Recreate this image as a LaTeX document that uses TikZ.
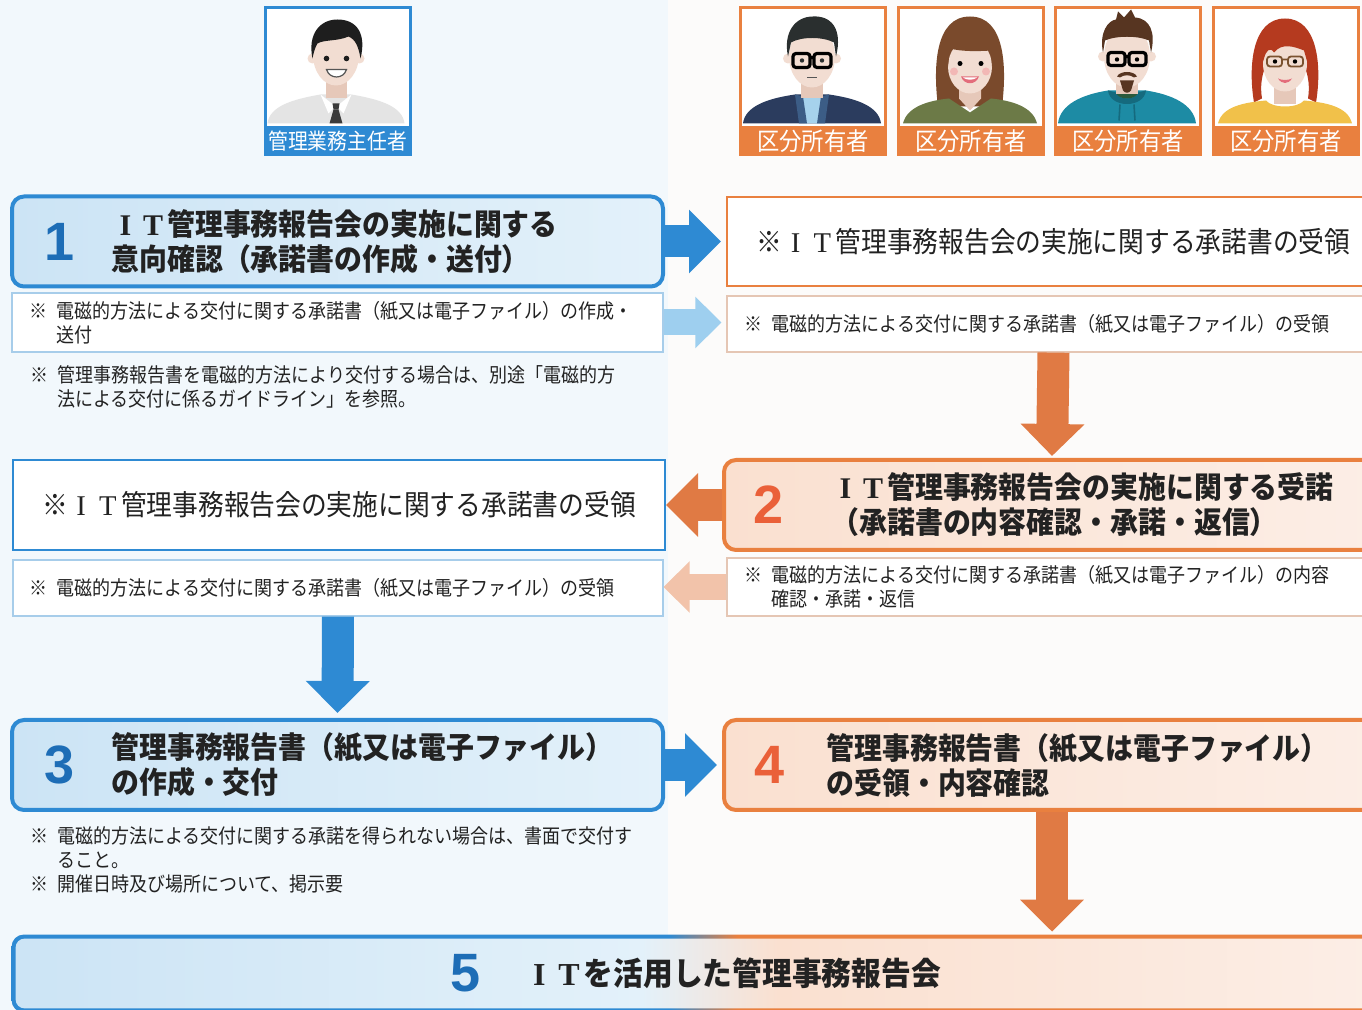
\documentclass[tikz,border=0pt]{standalone}
\usepackage{fontspec}
\newfontfamily\jp{Noto Sans CJK JP}
\newfontfamily\jpnote[FakeStretch=0.9]{Noto Sans CJK JP}
\newfontfamily\jphead[FakeStretch=0.93]{Noto Sans CJK JP}
\newfontfamily\numfont{Liberation Sans}
\newfontfamily\itfont{Liberation Serif}
\usetikzlibrary{arrows.meta}

% full width I and T in a serif face
\newcommand\ITmark{{\itfont\makebox[.93em]{I}\makebox[.93em]{T}}}

\definecolor{mainblue}{HTML}{2E8AD3}
\definecolor{numblue}{HTML}{1D6DB6}
\definecolor{paleblue}{HTML}{9ECFEF}
\definecolor{lineblue}{HTML}{A7CDEA}
\definecolor{fillblueL}{HTML}{CCE4F5}
\definecolor{fillblueR}{HTML}{E3F1FA}
\definecolor{mainorange}{HTML}{E9803F}
\definecolor{arroworange}{HTML}{E07A44}
\definecolor{numorange}{HTML}{EA6039}
\definecolor{paleorange}{HTML}{F2C3AA}
\definecolor{lineorange}{HTML}{E5C6B4}
\definecolor{fillorangeL}{HTML}{FAE0D0}
\definecolor{fillorangeR}{HTML}{FCEEE6}
\definecolor{bgblue}{HTML}{F2F8FC}
\definecolor{bgwarm}{HTML}{FCFBFA}
\definecolor{inktext}{HTML}{222222}
% avatar colours
\definecolor{skin}{HTML}{F2DDD2}
\definecolor{skinshade}{HTML}{E6C8B9}
\definecolor{hairblack}{HTML}{1E1E1E}
\definecolor{shirtgray}{HTML}{E4E4E4}
\definecolor{tiegray}{HTML}{3B3B3B}
\definecolor{mouthdark}{HTML}{555555}
\definecolor{jacketnavy}{HTML}{2B3C5E}
\definecolor{jacketlight}{HTML}{3C5D86}
\definecolor{shirtlblue}{HTML}{A6D2EC}
\definecolor{hairdark}{HTML}{2A2F2F}
\definecolor{hairbrown}{HTML}{7A4A2C}
\definecolor{topolive}{HTML}{6C7A47}
\definecolor{cheekpink}{HTML}{F2B8B5}
\definecolor{lippink}{HTML}{E36D7B}
\definecolor{hoodieteal}{HTML}{1D8BA4}
\definecolor{hooddark}{HTML}{156A7E}
\definecolor{shirtgreen}{HTML}{2C5A3C}
\definecolor{hairbrowndark}{HTML}{573521}
\definecolor{hairred}{HTML}{B53A1F}
\definecolor{topyellow}{HTML}{F1C14A}
\definecolor{rimbrown}{HTML}{7A5230}

% step 5 runs from blue into orange
\pgfdeclarehorizontalshading{stagefill}{100bp}{color(0bp)=(fillblueL); color(25bp)=(fillblueL);
  color(48bp)=(fillblueR); color(53bp)=(fillorangeL); color(75bp)=(fillorangeR); color(100bp)=(fillorangeR)}
\pgfdeclarehorizontalshading{stageline}{100bp}{color(0bp)=(mainblue); color(49bp)=(mainblue);
  color(51.5bp)=(mainorange); color(100bp)=(mainorange)}

\begin{document}
\begin{tikzpicture}[x=0.5pt, y=-0.5pt,
  avatarbox/.style={minimum width=72.5pt, minimum height=73.5pt, line width=1.5pt, fill=white, inner sep=0pt},
  bandlabel/.style={minimum width=72.5pt, minimum height=15pt, inner sep=0pt, text=white},
  stepbox/.style={rounded corners=6pt, line width=2pt, minimum height=45pt, inner sep=0pt},
  bluestep/.style={stepbox, draw=mainblue, left color=fillblueL, right color=fillblueR, minimum width=325.5pt},
  orangestep/.style={stepbox, draw=mainorange, left color=fillorangeL, right color=fillorangeR, minimum width=328pt},
  plainbox/.style={fill=white, inner sep=0pt, minimum width=326pt},
  stepnum/.style={font=\numfont\bfseries\fontsize{27}{27}\selectfont},
  steptext/.style={font=\jphead\bfseries\fontsize{15}{17.5}\selectfont, align=left, anchor=west, text=inktext, inner sep=0pt},
  notetext/.style={font=\jpnote\fontsize{10}{12}\selectfont, align=left, anchor=west, text=inktext, inner sep=0pt},
  fatarrow/.style={line width=16pt, -{Triangle[length=16pt, width=31pt]}},
  slimarrow/.style={line width=13pt, -{Triangle[length=13pt, width=25pt]}},
]
\useasboundingbox (0,0) rectangle (1362,1010);
\clip (0,0) rectangle (1362,1010);

% background
\fill[bgblue] (0,0) rectangle (668,1010);
\fill[bgwarm] (668,0) rectangle (1362,1010);

% people
\node[avatarbox, draw=mainblue] (mgr) at (337.5,81.5) {};
\foreach \who/\cx in {own1/813, own2/971, own3/1128, own4/1286}
  \node[avatarbox, draw=mainorange] (\who) at (\cx,81.5) {};

% manager
\begin{scope}[shift={(mgr.north west)}]
\clip (1.5,1.5) rectangle (143.5,117);
\fill[shirtgray] (4,117) .. controls (6,100) and (28,93) .. (57,88) -- (88,88) .. controls (117,93) and (139,100) .. (141,117) -- cycle;
\fill[skinshade] (62,66) rectangle (83,92);
\fill[white] (57,88) -- (72,100) -- (65,107) -- cycle;
\fill[white] (88,88) -- (73,100) -- (80,107) -- cycle;
\fill[tiegray] (69,97) -- (76,97) -- (75,103) -- (70,103) -- cycle;
\fill[tiegray] (70,103) -- (75,103) -- (79,117) -- (66,117) -- cycle;
\fill[skin] (49,52) circle (5) (96,52) circle (5);
\fill[skin] (72.5,48) ellipse (23 and 31);
\fill[hairblack] (49,52) .. controls (44,28) and (56,13) .. (74,13) .. controls (94,13) and (103,28) .. (97,52)
  .. controls (95,40) and (92,33) .. (85,30) .. controls (74,35) and (60,33) .. (54,37) .. controls (51,42) and (50,47) .. (49,52) -- cycle;
\fill[hairblack] (63,52) circle (2.8) (83,52) circle (2.8);
\filldraw[fill=white, draw=mouthdark, line width=0.6pt] (63,63) .. controls (66,73) and (80,73) .. (83,63) -- cycle;
\end{scope}

% owner with glasses
\begin{scope}[shift={(own1.north west)}]
\clip (1.5,1.5) rectangle (144.5,117);
\fill[jacketnavy] (4,117) .. controls (6,100) and (28,92) .. (56,88) -- (90,88) .. controls (118,92) and (140,100) .. (142,117) -- cycle;
\fill[shirtlblue] (63,90) -- (83,90) -- (80,117) -- (66,117) -- cycle;
\fill[jacketlight] (56,88) -- (64,90) -- (68,117) -- (60,117) -- cycle;
\fill[jacketlight] (90,88) -- (82,90) -- (78,117) -- (86,117) -- cycle;
\fill[skinshade] (62,66) rectangle (84,92);
\fill[skin] (49,52) circle (5) (97,52) circle (5);
\fill[skin] (73,50) ellipse (23 and 31);
\fill[hairdark] (49,50) .. controls (44,26) and (56,10) .. (74,10) .. controls (92,9) and (104,22) .. (97,50)
  -- (95,36) .. controls (84,30) and (62,30) .. (52,36) -- cycle;
\draw[black, line width=1.6pt, rounded corners=1.5pt] (54,47) rectangle (71,61) (75,47) rectangle (92,61) (71,51) -- (75,51);
\fill[hairdark] (63,54) circle (2.2) (83,54) circle (2.2);
\draw[mouthdark, line width=0.6pt] (68,71) -- (78,71);
\end{scope}

% owner with long hair
\begin{scope}[shift={(own2.north west)}]
\clip (1.5,1.5) rectangle (144.5,117);
\fill[hairbrown] (41,100) .. controls (36,60) and (38,10) .. (73,10) .. controls (108,10) and (110,60) .. (105,100) -- cycle;
\fill[skinshade] (62,70) -- (84,70) -- (84,92) -- (73,104) -- (62,92) -- cycle;
\fill[topolive] (6,117) .. controls (10,100) and (32,94) .. (52,92) -- (73,106) -- (94,92) .. controls (114,94) and (136,100) .. (140,117) -- cycle;
\fill[skin] (73,60) ellipse (22 and 27);
\fill[hairbrown] (51,60) .. controls (47,28) and (60,18) .. (73,18) .. controls (87,18) and (100,28) .. (95,60)
  -- (94,44) .. controls (80,45) and (64,45) .. (53,42) -- cycle;
\fill[black] (63,57) circle (2.5) (84,57) circle (2.5);
\fill[cheekpink] (57,65) circle (4) (89,65) circle (4);
\fill[lippink] (64,70) .. controls (67,79) and (79,79) .. (82,70) -- cycle;
\fill[white] (66,71) .. controls (70,74) and (76,74) .. (80,71) -- cycle;
\end{scope}

% owner with goatee
\begin{scope}[shift={(own3.north west)}]
\clip (1.5,1.5) rectangle (142.5,117);
\fill[hoodieteal] (4,117) .. controls (6,98) and (28,88) .. (54,84) -- (92,84) .. controls (118,88) and (140,98) .. (142,117) -- cycle;
\fill[hooddark] (54,84) .. controls (56,102) and (90,102) .. (92,84) -- (84,86) .. controls (82,94) and (64,94) .. (62,86) -- cycle;
\fill[shirtgreen] (62,86) .. controls (64,94) and (82,94) .. (84,86) -- cycle;
\fill[skinshade] (62,66) rectangle (84,88);
\draw[hooddark, line width=0.8pt] (66,98) -- (65,114) (80,98) -- (81,114);
\fill[skin] (49,50) circle (5) (97,50) circle (5);
\fill[skin] (73,50) ellipse (23 and 31);
\fill[hairbrowndark] (49,46) .. controls (45,26) and (54,14) .. (62,13) -- (64,5) -- (70,11) -- (77,3) -- (81,11)
  .. controls (96,12) and (102,26) .. (97,46) -- (95,34) .. controls (84,29) and (62,29) .. (51,34) -- cycle;
\draw[black, line width=1.6pt, rounded corners=1.5pt] (54,46) rectangle (71,59) (75,46) rectangle (92,59) (71,50) -- (75,50);
\fill[black] (63,53) circle (2.2) (83,53) circle (2.2);
\fill[hairbrowndark] (63,70) .. controls (66,64) and (80,64) .. (83,70) -- (80,71) .. controls (76,68) and (70,68) .. (66,71) -- cycle;
\fill[hairbrowndark] (66,74) -- (80,74) -- (77,84) .. controls (75,87) and (71,87) .. (69,84) -- cycle;
\end{scope}

% owner with red hair
\begin{scope}[shift={(own4.north west)}]
\clip (1.5,1.5) rectangle (143.5,117);
\fill[hairred] (42,96) .. controls (36,60) and (40,12) .. (73,12) .. controls (106,12) and (110,60) .. (104,96)
  -- (96,92) .. controls (98,80) and (96,70) .. (94,64) -- (52,64) .. controls (50,70) and (48,80) .. (50,92) -- cycle;
\fill[skinshade] (62,68) rectangle (84,98);
\fill[topyellow] (6,117) .. controls (10,100) and (32,96) .. (54,94) .. controls (60,102) and (86,102) .. (92,94)
  .. controls (114,96) and (136,100) .. (140,117) -- cycle;
\fill[skin] (73,57) ellipse (22 and 28);
\fill[hairred] (50,58) .. controls (48,28) and (60,18) .. (74,18) .. controls (90,18) and (100,30) .. (96,58)
  -- (92,44) .. controls (82,40) and (70,36) .. (62,46) .. controls (58,40) and (54,44) .. (52,52) -- cycle;
\draw[rimbrown, line width=0.9pt, rounded corners=1.5pt] (55,50) rectangle (70,60) (76,50) rectangle (91,60) (70,53) -- (76,53);
\fill[black] (63,55) circle (2.2) (83,55) circle (2.2);
\fill[lippink] (66,72) .. controls (70,78) and (76,78) .. (80,72) .. controls (76,74) and (70,74) .. (66,72) -- cycle;
\end{scope}

% name bands
\node[bandlabel, fill=mainblue, font=\jpnote\fontsize{11}{11}\selectfont] (mgrlabel) at ([yshift=7.5pt]mgr.south) {管理業務主任者};
\foreach \who in {own1, own2, own3, own4}
  \node[bandlabel, fill=mainorange, font=\jpnote\fontsize{12.4}{12.4}\selectfont] (\who label) at ([yshift=7.5pt]\who.south) {区分所有者};

% step 1
\node[bluestep] (box1) at (337.5,241.5) {};
\node[stepnum, text=numblue] (num1) at ([xshift=25pt]box1.west) {1};
\node[steptext] (text1) at ([xshift=50.5pt]box1.west) {\ITmark 管理事務報告会の実施に関する\\意向確認（承諾書の作成・送付）};
\node[plainbox, draw=lineblue, line width=0.6pt, minimum width=325.5pt, minimum height=29.5pt] (note1) at (337.5,322.5) {};
\node[notetext] at ([xshift=9pt]note1.west) {※\hspace{.45em}電磁的方法による交付に関する承諾書（紙又は電子ファイル）の作成・\\\hspace*{13.5pt}送付};
\node[notetext] (remark1) at (30,387) {※\hspace{.45em}管理事務報告書を電磁的方法により交付する場合は、別途「電磁的方\\\hspace*{13.5pt}法による交付に係るガイドライン」を参照。};

% receipt by owners
\node[plainbox, draw=mainorange, line width=1pt, minimum width=326.5pt, minimum height=44.5pt,
  font=\jpnote\fontsize{14.3}{14.3}\selectfont, text=inktext] (recv1) at (1053.5,241.5) {※\ITmark 管理事務報告会の実施に関する承諾書の受領};
\node[plainbox, draw=lineorange, line width=0.6pt, minimum width=326.5pt, minimum height=28pt] (recv1note) at (1053.5,324) {};
\node[notetext] at ([xshift=9pt]recv1note.west) {※\hspace{.45em}電磁的方法による交付に関する承諾書（紙又は電子ファイル）の受領};

% step 2
\node[orangestep] (box2) at (1052,505) {};
\node[stepnum, text=numorange] (num2) at ([xshift=23.5pt]box2.west) {2};
\node[steptext] (text2) at ([xshift=54.5pt]box2.west) {\ITmark 管理事務報告会の実施に関する受諾\\（承諾書の内容確認・承諾・返信）};
\node[plainbox, draw=lineorange, line width=0.6pt, minimum width=326.5pt, minimum height=29pt] (note2) at (1053.5,587) {};
\node[notetext] at ([xshift=9pt]note2.west) {※\hspace{.45em}電磁的方法による交付に関する承諾書（紙又は電子ファイル）の内容\\\hspace*{13.5pt}確認・承諾・返信};

% receipt by manager
\node[plainbox, draw=mainblue, line width=1pt, minimum height=45pt,
  font=\jpnote\fontsize{14.3}{14.3}\selectfont, text=inktext] (recv2) at (339,505) {※\ITmark 管理事務報告会の実施に関する承諾書の受領};
\node[plainbox, draw=lineblue, line width=0.6pt, minimum width=325pt, minimum height=28pt] (recv2note) at (338,588) {};
\node[notetext] at ([xshift=8.5pt]recv2note.west) {※\hspace{.45em}電磁的方法による交付に関する承諾書（紙又は電子ファイル）の受領};

% step 3 and 4
\node[bluestep] (box3) at (337.5,765) {};
\node[stepnum, text=numblue] (num3) at ([xshift=25pt]box3.west) {3};
\node[steptext] (text3) at ([xshift=50.5pt]box3.west) {管理事務報告書（紙又は電子ファイル）\\の作成・交付};
\node[notetext] (remark3) at (30,860) {※\hspace{.45em}電磁的方法による交付に関する承諾を得られない場合は、書面で交付す\\\hspace*{13.5pt}ること。\\※\hspace{.45em}開催日時及び場所について、掲示要};
\node[orangestep] (box4) at (1052,765) {};
\node[stepnum, text=numorange] (num4) at ([xshift=24pt]box4.west) {4};
\node[steptext] (text4) at ([xshift=52pt]box4.west) {管理事務報告書（紙又は電子ファイル）\\の受領・内容確認};

% step 5
\node[minimum width=684pt, minimum height=38.5pt, inner sep=0pt] (box5) at (696,973.5) {};
\shade[shading=stageline, rounded corners=6pt] (box5.south west) rectangle (box5.north east);
\shade[shading=stagefill, rounded corners=4.5pt] ([shift={(2pt,2pt)}]box5.south west) rectangle ([shift={(-2pt,-2pt)}]box5.north east);
\node[stepnum, text=numblue] (num5) at ([xshift=-115pt]box5.center) {5};
\node[steptext, font=\jphead\bfseries\fontsize{16}{17.5}\selectfont] (text5) at ([xshift=-86pt]box5.center) {\ITmark を活用した管理事務報告会};

% flow arrows
\draw[fatarrow, mainblue, shorten >=2.5pt] (box1.east) -- (recv1.west);
\draw[slimarrow, paleblue, shorten >=2.5pt] (note1.east) -- (note1.east -| recv1note.west);
\draw[fatarrow, arroworange, shorten >=1pt] (recv1note.south) -- (box2.north);
\draw[fatarrow, arroworange] (box2.west) -- (recv2.east);
\draw[slimarrow, paleorange] (note2.west) -- (note2.west -| recv2note.east);
\draw[fatarrow, mainblue, shorten >=2.5pt] (recv2note.south) -- (box3.north);
\draw[fatarrow, mainblue, shorten >=2.5pt] (box3.east) -- (box4.west);
\draw[fatarrow, arroworange, shorten >=1.5pt] (box4.south) -- (box4.south |- box5.north);
\end{tikzpicture}
\end{document}
